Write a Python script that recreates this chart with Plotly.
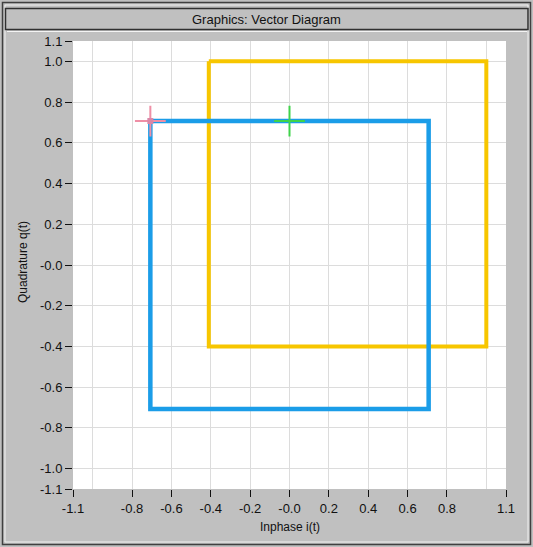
import plotly.graph_objects as go

# ---- data ----
blue_i = [-0.707, 0.707, 0.707, -0.707, -0.707]
blue_q = [0.707, 0.707, -0.707, -0.707, 0.707]
yellow_i = [-0.41, 1.0, 1.0, -0.41, -0.41]
yellow_q = [1.0, 1.0, -0.4, -0.4, 1.0]
pink_marker_i = [-0.707]
pink_marker_q = [0.707]
green_marker_i = [0.0]
green_marker_q = [0.707]

x_tick_vals = [-1.1, -0.8, -0.6, -0.4, -0.2, 0.0, 0.2, 0.4, 0.6, 0.8, 1.1]
x_tick_text = ["-1.1", "-0.8", "-0.6", "-0.4", "-0.2", "-0.0", "0.2", "0.4", "0.6", "0.8", "1.1"]
y_tick_vals = [1.1, 1.0, 0.8, 0.6, 0.4, 0.2, 0.0, -0.2, -0.4, -0.6, -0.8, -1.0, -1.1]
y_tick_text = ["1.1", "1.0", "0.8", "0.6", "0.4", "0.2", "-0.0", "-0.2", "-0.4", "-0.6", "-0.8", "-1.0", "-1.1"]
grid_vals = [-1.0, -0.8, -0.6, -0.4, -0.2, 0.0, 0.2, 0.4, 0.6, 0.8, 1.0]

# ---- layout geometry (pixels) ----
W, H = 533, 547
L, R, T, B = 73, 27, 41, 58
PW, PH = W - L - R, H - T - B

def px(x):
    return (x - L) / PW

def py(y):
    return 1 - (y - T) / PH

fig = go.Figure()
fig.add_trace(go.Scatter(x=yellow_i, y=yellow_q, mode="lines",
                         line=dict(color="#f7c600", width=4), hoverinfo="skip"))
fig.add_trace(go.Scatter(x=blue_i, y=blue_q, mode="lines",
                         line=dict(color="#1b9de8", width=4.5), hoverinfo="skip"))
fig.add_trace(go.Scatter(x=green_marker_i, y=green_marker_q, mode="markers",
                         marker=dict(symbol="cross-thin", size=22,
                                     line=dict(color="#3fd34a", width=2)),
                         hoverinfo="skip"))
fig.add_trace(go.Scatter(x=pink_marker_i, y=pink_marker_q, mode="markers",
                         marker=dict(symbol="cross-thin", size=22,
                                     line=dict(color="#ef8fa6", width=2)),
                         hoverinfo="skip"))
fig.add_trace(go.Scatter(x=pink_marker_i, y=pink_marker_q, mode="markers",
                         marker=dict(symbol="square", size=6, color="#d987a8"),
                         hoverinfo="skip"))

font_family = "Liberation Sans, Arial, sans-serif"
axis_font = dict(family=font_family, size=13, color="#111111")
title_font = dict(family=font_family, size=12, color="#111111")

fig.update_xaxes(range=[-1.1, 1.1], tickmode="array", tickvals=x_tick_vals,
                 ticktext=x_tick_text, ticks="outside", ticklen=7, tickcolor="#111",
                 tickwidth=1, showgrid=False, zeroline=False, showline=False,
                 tickfont=axis_font,
                 minor=dict(tickmode="array", tickvals=grid_vals, showgrid=True,
                            gridcolor="#dcdcdc", gridwidth=1, ticks=""))
fig.update_yaxes(range=[-1.1, 1.1], tickmode="array", tickvals=y_tick_vals,
                 ticktext=y_tick_text, ticks="outside", ticklen=7, tickcolor="#111",
                 tickwidth=1, showgrid=False, zeroline=False, showline=False,
                 tickfont=axis_font,
                 minor=dict(tickmode="array", tickvals=grid_vals, showgrid=True,
                            gridcolor="#dcdcdc", gridwidth=1, ticks=""))

shapes = [
    # outer window border
    dict(type="rect", xref="paper", yref="paper", x0=px(2.5), x1=px(530.5),
         y0=py(544.5), y1=py(2.5), line=dict(color="#404040", width=1.5),
         fillcolor="rgba(0,0,0,0)", layer="below"),
    dict(type="rect", xref="paper", yref="paper", x0=px(5), x1=px(528),
         y0=py(542), y1=py(5), line=dict(color="#f0f0f0", width=1),
         fillcolor="rgba(0,0,0,0)", layer="below"),
    # title bar
    dict(type="rect", xref="paper", yref="paper", x0=px(5.5), x1=px(528),
         y0=py(29.5), y1=py(8.5), line=dict(color="#303030", width=1.5),
         fillcolor="#c0c0c0", layer="below"),
    dict(type="line", xref="paper", yref="paper", x0=px(7), x1=px(527),
         y0=py(31.5), y1=py(31.5), line=dict(color="#f4f4f4", width=1), layer="below"),
]

annotations = [
    dict(text="Graphics: Vector Diagram", xref="paper", yref="paper",
         x=px(266), y=py(19), showarrow=False, xanchor="center", yanchor="middle",
         font=dict(family=font_family, size=13, color="#111111")),
    dict(text="Inphase i(t)", xref="paper", yref="paper",
         x=px(290), y=py(527), showarrow=False, xanchor="center", yanchor="middle",
         font=title_font),
    dict(text="Quadrature q(t)", xref="paper", yref="paper", textangle=-90,
         x=px(23), y=py(262), showarrow=False, xanchor="center", yanchor="middle",
         font=title_font),
]

fig.update_layout(
    width=W, height=H,
    margin=dict(l=L, r=R, t=T, b=B),
    paper_bgcolor="#c0c0c0", plot_bgcolor="#ffffff",
    showlegend=False,
    shapes=shapes,
    annotations=annotations,
)

fig.write_html("out.html", config={"displayModeBar": False},
               post_script="document.body.style.margin='0';document.body.style.overflow='hidden';")
